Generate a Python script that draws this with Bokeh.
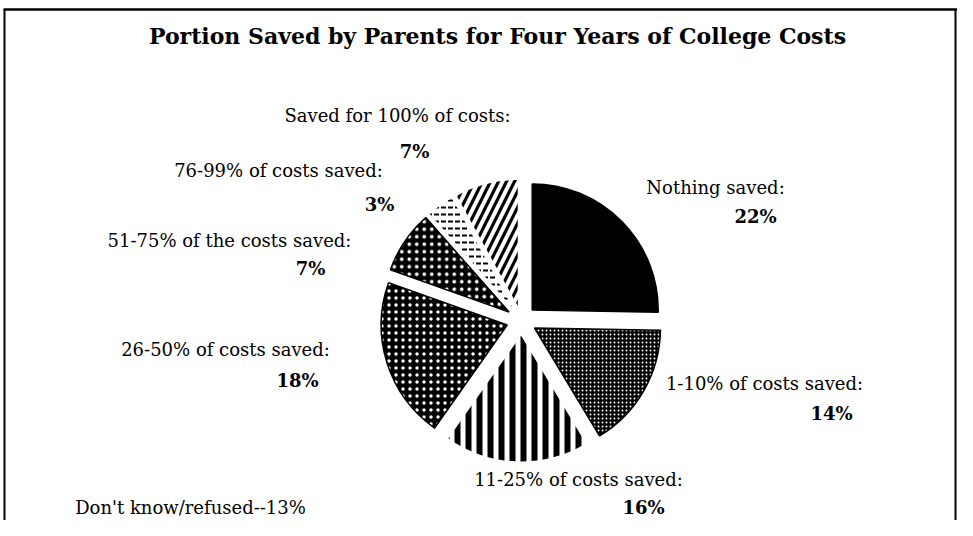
import math
from bokeh.plotting import figure
from bokeh.models import Range1d
from bokeh.core.properties import value
from bokeh.embed import file_html
from bokeh.resources import INLINE

# ---------------- data ----------------
title_text = "Portion Saved by Parents for Four Years of College Costs"
categories = [
    "Nothing saved:",
    "1-10% of costs saved:",
    "11-25% of costs saved:",
    "26-50% of costs saved:",
    "51-75% of the costs saved:",
    "76-99% of costs saved:",
    "Saved for 100% of costs:",
]
percents = [22, 14, 16, 18, 7, 3, 7]
dont_know_pct = 13
dont_know_text = "Don't know/refused--" + str(dont_know_pct) + "%"

# ---------------- styles / layout ----------------
W, H = 957, 520
REF_H = 536
def sy(y):  # screen y -> data y
    return REF_H - y

styles = [
    dict(fill_color="black", hatch_pattern=None, hatch_color="white", hatch_scale=5, hatch_weight=1, line_color="black"),
    dict(fill_color="black", hatch_pattern="dot", hatch_color="white", hatch_scale=4, hatch_weight=0.05, line_color="black"),
    dict(fill_color="white", hatch_pattern="vertical_line", hatch_color="black", hatch_scale=11, hatch_weight=6, line_color=None),
    dict(fill_color="black", hatch_pattern="dot", hatch_color="white", hatch_scale=7, hatch_weight=0.8, line_color="black"),
    dict(fill_color="black", hatch_pattern="dot", hatch_color="white", hatch_scale=7.5, hatch_weight=0.8, line_color="black"),
    dict(fill_color="white", hatch_pattern="horizontal_dash", hatch_color="black", hatch_scale=7, hatch_weight=2, line_color=None),
    dict(fill_color="white", hatch_pattern="right_diagonal_line", hatch_color="black", hatch_scale=16, hatch_weight=3.2, line_color=None),
]

# label centres (screen coords): category line, then percent line
label_pos = [
    ((715, 187), (755, 216)),
    ((764, 383), (831, 413)),
    ((578, 479), (643, 507)),
    ((225, 349), (297, 380)),
    ((229, 240), (310, 268)),
    ((278, 170), (379, 204)),
    ((397, 115), (414, 151)),
]

cx, cy = 521, sy(320)
R = 126
explode = 15

p = figure(width=W, height=H, output_backend="svg", toolbar_location=None,
           x_range=Range1d(0, W), y_range=Range1d(REF_H - H, REF_H),
           min_border=0, outline_line_color=None)
p.axis.visible = False
p.grid.visible = False
p.background_fill_color = "white"
p.border_fill_color = "white"

total = sum(percents)
start = 0.0
serif = value("DejaVu Serif")
FS = "18px"
for cat, pct, st, (lp, pp) in zip(categories, percents, styles, label_pos):
    span = pct / total * 360.0
    mid = start + span / 2
    ox = cx + explode * math.sin(math.radians(mid))
    oy = cy + explode * math.cos(math.radians(mid))
    kw = dict(fill_color=st["fill_color"], line_color=st["line_color"], line_width=1.5)
    if st["hatch_pattern"]:
        kw.update(hatch_pattern=st["hatch_pattern"], hatch_color=st["hatch_color"],
                  hatch_scale=st["hatch_scale"], hatch_weight=st["hatch_weight"])
    p.wedge(x=[ox], y=[oy], radius=R, radius_units="data",
            start_angle=math.radians(90 - start), end_angle=math.radians(90 - start - span),
            direction="clock", **kw)
    p.text(x=[lp[0]], y=[sy(lp[1])], text=[cat], text_font=serif, text_font_size=FS,
           text_align="center", text_baseline="middle", text_color="black")
    p.text(x=[pp[0]], y=[sy(pp[1])], text=[f"{pct}%"], text_font=serif, text_font_size=FS,
           text_font_style="bold", text_align="center", text_baseline="middle", text_color="black")
    start += span

p.text(x=[190], y=[sy(507)], text=[dont_know_text], text_font=serif, text_font_size=FS,
       text_align="center", text_baseline="middle", text_color="black")

p.text(x=[497], y=[sy(35)], text=[title_text], text_font=serif, text_font_size="22px",
       text_font_style="bold", text_align="center", text_baseline="middle", text_color="black")

# frame
p.line(x=[3, W], y=[sy(9), sy(9)], line_color="black", line_width=2.5)
p.line(x=[4, 4], y=[sy(9), sy(540)], line_color="black", line_width=2)
p.line(x=[W - 2, W - 2], y=[sy(9), sy(540)], line_color="black", line_width=2)

open("out.html", "w").write(file_html(p, INLINE))
